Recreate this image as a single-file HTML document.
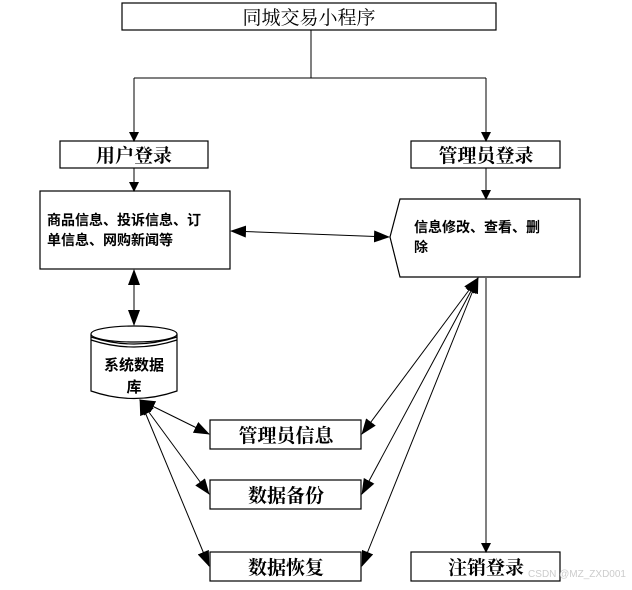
<!DOCTYPE html>
<html><head><meta charset="utf-8"><style>
body{margin:0;background:#fff;}
svg text{font-family:"Liberation Serif","Noto Serif CJK SC",serif;fill:#000;}
svg text.s{font-family:"Liberation Sans","Noto Sans CJK SC",sans-serif;}
</style></head><body>
<svg width="632" height="585" viewBox="0 0 632 585" xmlns="http://www.w3.org/2000/svg">
<defs>
<marker id="a" markerWidth="10" markerHeight="10" refX="9" refY="5" orient="auto-start-reverse" markerUnits="userSpaceOnUse"><path d="M0,0 L10,5 L0,10 z" fill="#000"/></marker>
<marker id="b" markerWidth="16" markerHeight="12" refX="15" refY="6" orient="auto-start-reverse" markerUnits="userSpaceOnUse"><path d="M0,0 L16,6 L0,12 z" fill="#000"/></marker>
</defs>
<g fill="#fff" stroke="#000" stroke-width="1.2">
<rect x="122" y="3" width="374" height="27"/>
<rect x="60" y="141" width="148" height="27"/>
<rect x="411" y="141" width="149" height="27"/>
<rect x="40" y="191" width="190" height="78"/>
<path d="M400,199 L580,199 L580,277 L400,277 L390,237 Z"/>
<rect x="210" y="420" width="151" height="29"/>
<rect x="210" y="480" width="151" height="29"/>
<rect x="210" y="552" width="151" height="29"/>
<rect x="411" y="552" width="149" height="29"/>
<path d="M91,334 L91,391 Q134,406 177,391 L177,334"/>
<ellipse cx="134" cy="334" rx="43" ry="8"/>
<path d="M91,337 Q134,351 177,337" fill="none"/>
<path d="M91,340 Q134,354 177,340" fill="none"/>
</g>
<g stroke="#000" stroke-width="1" fill="none">
<path d="M311,30 L311,78 M134,78 L486,78"/>
<line x1="134" y1="78" x2="134" y2="141" marker-end="url(#a)"/>
<line x1="486" y1="78" x2="486" y2="141" marker-end="url(#a)"/>
<line x1="134" y1="168" x2="134" y2="191" marker-end="url(#a)"/>
<line x1="486" y1="168" x2="486" y2="199" marker-end="url(#a)"/>
<line x1="231" y1="231" x2="389" y2="237" marker-start="url(#b)" marker-end="url(#b)"/>
<line x1="134" y1="270" x2="134" y2="325" marker-start="url(#b)" marker-end="url(#b)"/>
<line x1="140" y1="400" x2="209" y2="434" marker-start="url(#b)" marker-end="url(#b)"/>
<line x1="140" y1="400" x2="209" y2="494" marker-start="url(#b)" marker-end="url(#b)"/>
<line x1="140" y1="400" x2="209" y2="566" marker-start="url(#b)" marker-end="url(#b)"/>
<line x1="478" y1="278" x2="362" y2="434" marker-start="url(#b)" marker-end="url(#b)"/>
<line x1="478" y1="278" x2="362" y2="494" marker-start="url(#b)" marker-end="url(#b)"/>
<line x1="478" y1="278" x2="362" y2="566" marker-start="url(#b)" marker-end="url(#b)"/>
<line x1="486" y1="278" x2="486" y2="552" marker-end="url(#a)"/>
</g>
<text x="309" y="24" font-size="19" text-anchor="middle">同城交易小程序</text>
<text x="134" y="162" font-size="19" text-anchor="middle" font-weight="bold">用户登录</text>
<text x="486" y="162" font-size="19" text-anchor="middle" font-weight="bold">管理员登录</text>
<text class="s" x="47" y="225" font-size="14" font-weight="bold">商品信息、投诉信息、订</text>
<text class="s" x="47" y="245" font-size="14" font-weight="bold">单信息、网购新闻等</text>
<text class="s" x="414" y="232" font-size="14" font-weight="bold">信息修改、查看、删</text>
<text class="s" x="414" y="252" font-size="14" font-weight="bold">除</text>
<text class="s" x="134" y="370" font-size="15" text-anchor="middle" font-weight="bold">系统数据</text>
<text class="s" x="134" y="392" font-size="15" text-anchor="middle" font-weight="bold">库</text>
<text x="286" y="442" font-size="19" text-anchor="middle" font-weight="bold">管理员信息</text>
<text x="286" y="502" font-size="19" text-anchor="middle" font-weight="bold">数据备份</text>
<text x="286" y="574" font-size="19" text-anchor="middle" font-weight="bold">数据恢复</text>
<text x="486" y="574" font-size="19" text-anchor="middle" font-weight="bold">注销登录</text>
<text x="626" y="577" font-size="10" text-anchor="end" style="fill:#ccc;font-family:'Liberation Sans',sans-serif">CSDN @MZ_ZXD001</text>
</svg>
</body></html>
